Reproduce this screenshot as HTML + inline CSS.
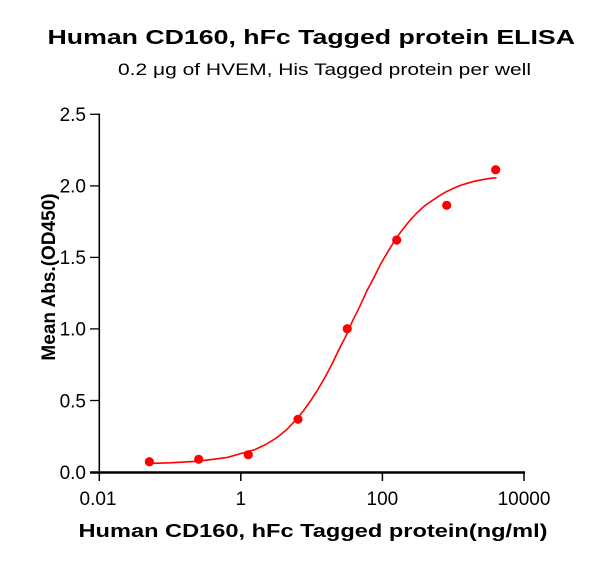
<!DOCTYPE html>
<html>
<head>
<meta charset="utf-8">
<style>
  html, body { margin: 0; padding: 0; background: #fff; }
  svg { display: block; }
  text { font-family: "Liberation Sans", Arial, sans-serif; fill: #000; }
</style>
</head>
<body>
<svg width="600" height="566" viewBox="0 0 600 566" xmlns="http://www.w3.org/2000/svg">
  <rect width="600" height="566" fill="#fff"/>

  <!-- Titles -->
  <text x="47.5" y="44" font-size="20.5" font-weight="bold" textLength="527.5" lengthAdjust="spacingAndGlyphs">Human CD160, hFc Tagged protein ELISA</text>
  <text x="118" y="75" font-size="17" textLength="413" lengthAdjust="spacingAndGlyphs">0.2 μg of HVEM, His Tagged protein per well</text>

  <!-- Axes -->
  <line x1="99.3" y1="113.5" x2="99.3" y2="473" stroke="#000" stroke-width="1.6"/>
  <line x1="90" y1="472.5" x2="525" y2="472.5" stroke="#000" stroke-width="2.4"/>

  <!-- Y ticks -->
  <g stroke="#000" stroke-width="1.3">
    <line x1="90" y1="400.5" x2="99.3" y2="400.5"/>
    <line x1="90" y1="328.9" x2="99.3" y2="328.9"/>
    <line x1="90" y1="257.4" x2="99.3" y2="257.4"/>
    <line x1="90" y1="185.9" x2="99.3" y2="185.9"/>
    <line x1="90" y1="114.3" x2="99.3" y2="114.3"/>
  </g>
  <!-- X ticks -->
  <g stroke="#000" stroke-width="1.5">
    <line x1="99.3" y1="472" x2="99.3" y2="481"/>
    <line x1="240.8" y1="472" x2="240.8" y2="481"/>
    <line x1="382.4" y1="472" x2="382.4" y2="481"/>
    <line x1="524" y1="472" x2="524" y2="481"/>
  </g>

  <!-- Y tick labels -->
  <g font-size="19" text-anchor="end">
    <text x="86" y="479">0.0</text>
    <text x="86" y="407.3">0.5</text>
    <text x="86" y="335.7">1.0</text>
    <text x="86" y="264.2">1.5</text>
    <text x="86" y="192.7">2.0</text>
    <text x="86" y="121.1">2.5</text>
  </g>
  <!-- X tick labels -->
  <g font-size="19" text-anchor="middle">
    <text x="98" y="505">0.01</text>
    <text x="240.8" y="505">1</text>
    <text x="382.4" y="505">100</text>
    <text x="524" y="505">10000</text>
  </g>

  <!-- Axis titles -->
  <text x="78.5" y="537" font-size="18.7" font-weight="bold" textLength="469" lengthAdjust="spacingAndGlyphs">Human CD160, hFc Tagged protein(ng/ml)</text>
  <text transform="rotate(-90)" x="-277" y="55" font-size="19" font-weight="bold" text-anchor="middle">Mean Abs.(OD450)</text>

  <!-- Fitted curve -->
  <polyline fill="none" stroke="#ff0000" stroke-width="1.6" stroke-linejoin="round" stroke-linecap="round"
    points="149.6,463.4 170.1,462.8 198.4,461.2 226.7,457.6 255.1,449.5 265.7,444.5 276.3,438.0 286.6,429.7 296.8,419.0 303.6,410.6 310.5,400.9 317.5,390.1 324.6,378.0 331.6,364.9 338.7,350.0 345.8,336.3 352.8,320.3 359.9,306.2 367.0,290.6 374.1,277.2 381.1,263.2 388.2,251.2 395.3,239.7 402.4,229.7 409.6,220.8 416.8,213.0 424.0,206.3 432.1,200.6 439.2,195.8 446.3,191.7 453.4,188.3 460.5,185.4 467.5,183.2 474.6,181.2 481.7,179.8 488.8,178.6 495.9,177.8"/>

  <!-- Data points -->
  <g fill="#ff0000">
    <circle cx="149.4" cy="461.7" r="4.6"/>
    <circle cx="198.7" cy="459.3" r="4.6"/>
    <circle cx="248.3" cy="454.7" r="4.6"/>
    <circle cx="298" cy="419.3" r="4.6"/>
    <circle cx="347.3" cy="328.7" r="4.6"/>
    <circle cx="396.7" cy="240" r="4.6"/>
    <circle cx="446.7" cy="205.3" r="4.6"/>
    <circle cx="495.7" cy="169.7" r="4.6"/>
  </g>
</svg>
</body>
</html>
